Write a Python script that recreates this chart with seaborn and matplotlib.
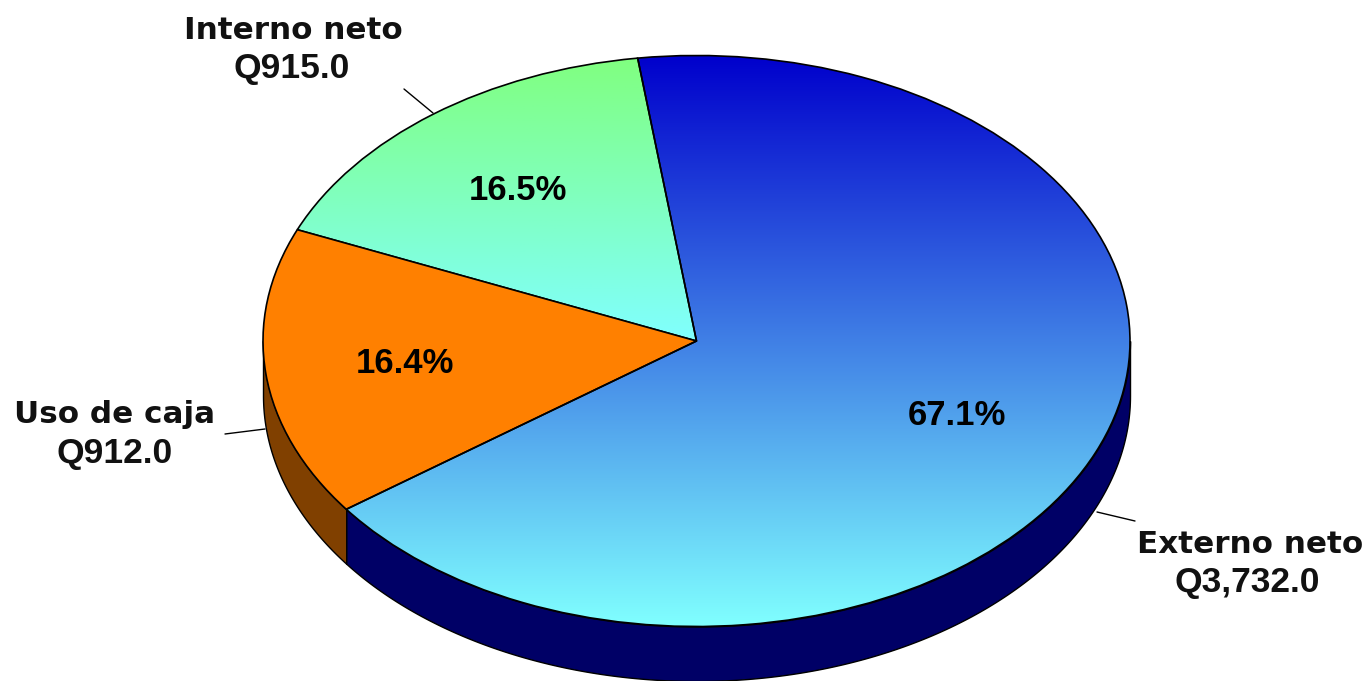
import numpy as np
import seaborn as sns
import matplotlib.pyplot as plt
from matplotlib.lines import Line2D

categories = ['Interno neto', 'Uso de caja', 'Externo neto']
values = [915.0, 912.0, 3732.0]

W, H = 1367, 681
CX, CY, RX, RY = 696.5, 341, 433.5, 285.5
DEPTH = 54.5 / RY
START = 97.8

sns.set_theme(style='white')
plt.rcParams['font.family'] = ['Liberation Sans', 'DejaVu Sans']

fig = plt.figure(figsize=(W / 100, H / 100), dpi=100)
ax = fig.add_axes([0, 0, 1, 1])

wedges, _ = ax.pie(values, startangle=START, radius=1,
                   colors=['none', '#FF8000', 'none'],
                   wedgeprops={'edgecolor': 'black', 'linewidth': 1.2, 'zorder': 3})

# gradient faces, clipped to their wedges
grads = {0: ['#80FF80', '#80FFFF'], 2: ['#0000CC', '#80FFFF']}
for i, cols in grads.items():
    box = wedges[i].get_path().get_extents()
    cmap = sns.blend_palette(cols, as_cmap=True)
    im = ax.imshow(np.linspace(0, 1, 256).reshape(-1, 1), cmap=cmap, aspect='auto',
                   extent=(box.x0, box.x1, box.y0, box.y1), origin='upper', zorder=2)
    im.set_clip_path(wedges[i])

# side wall of the disc
shares = np.cumsum(values) / np.sum(values)
edge_a = START + 360 * shares[0]
edge_b = START + 360 * shares[1]
side_cols = {'#804000': (edge_a, edge_b), '#000066': (edge_b, 360)}
for col, (a0, a1) in side_cols.items():
    t = np.radians(np.linspace(max(a0, 180), a1, 200))
    x, y = np.cos(t), np.sin(t)
    ax.fill_between(x, y, y - DEPTH, color=col, edgecolor='black', linewidth=1.0, zorder=1)

ax.set_xlim((0 - CX) / RX, (W - CX) / RX)
ax.set_ylim((CY - H) / RY, CY / RY)
ax.set_aspect('auto')


def fx(x):
    return x / W


def fy(y):
    return 1 - y / H


total = sum(values)
pct_pos = [(518, 200), (405, 373), (957, 425)]
for v, (x, y) in zip(values, pct_pos):
    fig.text(fx(x), fy(y), f'{v / total:.1%}', ha='center', va='baseline',
             fontsize=25, fontweight='bold', color='black', zorder=5)

name_pos = [(293, 39), (115, 423), (1250, 553)]
val_pos = [(292, 78), (115, 463), (1247, 592)]
for name, v, p1, p2 in zip(categories, values, name_pos, val_pos):
    fig.text(fx(p1[0]), fy(p1[1]), name, ha='center', va='baseline', fontsize=22.3,
             fontweight='bold', family='DejaVu Sans', color='#111111')
    fig.text(fx(p2[0]), fy(p2[1]), f'Q{v:,.1f}', ha='center', va='baseline', fontsize=25.5,
             fontweight='bold', color='#111111')

leaders = [((404, 89), (433, 113)), ((225, 434), (265, 429)), ((1097, 512), (1135, 521))]
for a, b in leaders:
    fig.add_artist(Line2D([fx(a[0]), fx(b[0])], [fy(a[1]), fy(b[1])], color='black', lw=1.0))

fig.savefig('out.png', dpi=100)
